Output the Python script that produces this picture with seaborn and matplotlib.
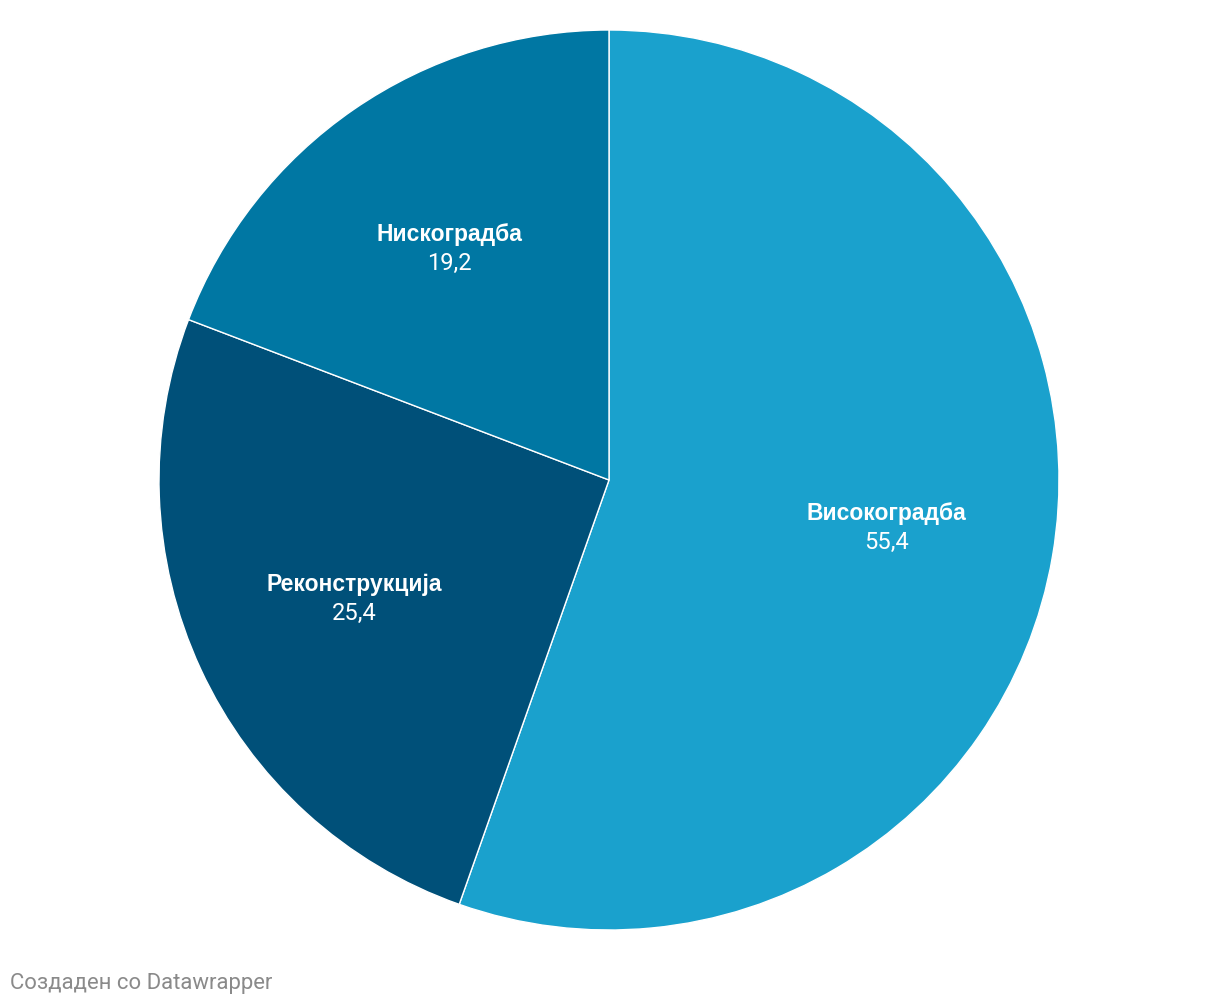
import numpy as np
import matplotlib.pyplot as plt
import seaborn as sns

# Data
categories = ['Високоградба', 'Реконструкција', 'Нискоградба']
values = [55.4, 25.4, 19.2]
value_labels = ['55,4', '25,4', '19,2']
colors = ['#1aa1cd', '#005079', '#0077a3']

sns.set_theme(style="white")
plt.rcParams['font.family'] = ['Roboto', 'DejaVu Sans']

fig = plt.figure(figsize=(12.2, 10.06), dpi=100)
ax = fig.add_axes([159 / 1220, 76 / 1006, 900 / 1220, 900 / 1006])

wedges, _ = ax.pie(values, colors=colors, startangle=90, counterclock=False,
                   radius=1.0, wedgeprops=dict(edgecolor='white', linewidth=1))
ax.set_xlim(-1, 1)
ax.set_ylim(-1, 1)
ax.set_aspect('equal')
ax.axis('off')

# labels inside each slice
for w, name, val in zip(wedges, categories, value_labels):
    ang = np.deg2rad((w.theta1 + w.theta2) / 2)
    x, y = 0.625 * np.cos(ang), 0.625 * np.sin(ang)
    ax.text(x, y + 0.031, name, ha='center', va='center', color='white',
            fontsize=16.5, fontweight='bold', family=['Liberation Sans', 'DejaVu Sans'])
    ax.text(x, y - 0.033, val, ha='center', va='center', color='white',
            fontsize=17, family=['Roboto', 'DejaVu Sans'])

fig.text(10 / 1220, 1 - 983 / 1006, 'Создаден со Datawrapper', ha='left', va='center',
         color='#8a8a8a', fontsize=15.9)

fig.savefig('out.png', dpi=100, facecolor='white')
